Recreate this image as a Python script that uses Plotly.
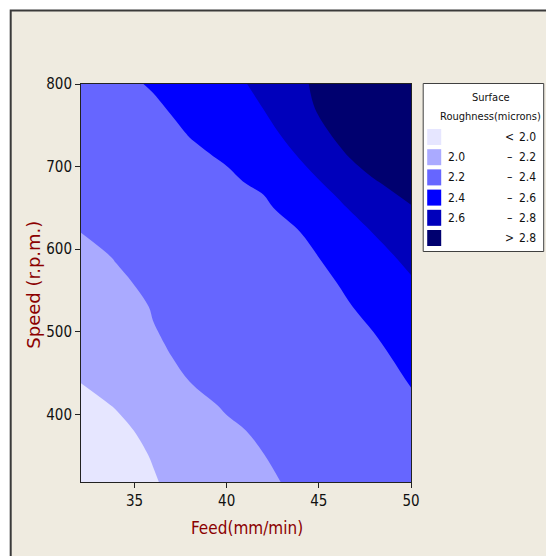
import plotly.graph_objects as go

# ---- data ----
feed = [32, 34, 36, 38, 40, 42, 44, 46, 48, 50]
speed = [318, 350, 380, 410, 440, 470, 500, 530, 560, 590, 620, 650, 680, 710, 740, 770, 800]
roughness = [
    [1.890, 1.940, 1.990, 2.052, 2.113, 2.174, 2.230, 2.262, 2.302, 2.342],
    [1.900, 1.949, 2.007, 2.071, 2.135, 2.198, 2.237, 2.275, 2.314, 2.352],
    [1.925, 1.969, 2.033, 2.100, 2.172, 2.225, 2.257, 2.294, 2.332, 2.370],
    [1.955, 2.006, 2.076, 2.146, 2.216, 2.248, 2.280, 2.316, 2.352, 2.388],
    [2.001, 2.068, 2.135, 2.201, 2.234, 2.268, 2.302, 2.336, 2.370, 2.404],
    [2.038, 2.100, 2.175, 2.224, 2.252, 2.284, 2.317, 2.351, 2.380, 2.425],
    [2.065, 2.126, 2.195, 2.230, 2.264, 2.298, 2.332, 2.366, 2.401, 2.488],
    [2.093, 2.151, 2.206, 2.241, 2.277, 2.313, 2.348, 2.378, 2.430, 2.535],
    [2.125, 2.180, 2.226, 2.257, 2.293, 2.329, 2.364, 2.401, 2.493, 2.584],
    [2.157, 2.206, 2.241, 2.276, 2.311, 2.347, 2.388, 2.412, 2.543, 2.640],
    [2.199, 2.234, 2.267, 2.300, 2.333, 2.366, 2.399, 2.501, 2.605, 2.698],
    [2.220, 2.255, 2.289, 2.323, 2.357, 2.380, 2.455, 2.572, 2.678, 2.786],
    [2.240, 2.275, 2.311, 2.346, 2.382, 2.418, 2.542, 2.640, 2.779, 2.900],
    [2.263, 2.300, 2.337, 2.380, 2.408, 2.514, 2.604, 2.747, 2.900, 3.060],
    [2.286, 2.325, 2.364, 2.404, 2.485, 2.555, 2.660, 2.834, 3.014, 3.194],
    [2.309, 2.348, 2.382, 2.432, 2.522, 2.601, 2.738, 2.894, 3.060, 3.230],
    [2.331, 2.371, 2.410, 2.490, 2.550, 2.640, 2.765, 2.920, 3.080, 3.240],
]
level_start, level_end, level_step = 2.0, 2.8, 0.2
band_colors = ["#e6e6ff", "#aaaaff", "#6666ff", "#0000ff", "#0000bb", "#00006f"]
legend_left = ["", "2.0", "2.2", "2.4", "2.6", ""]
legend_sym = ["<", "–", "–", "–", "–", ">"]
legend_right = ["2.0", "2.2", "2.4", "2.6", "2.8", "2.8"]
x_ticks = [35, 40, 45, 50]
y_ticks = [400, 500, 600, 700, 800]

W, H = 546, 556
L, R, T, B = 81.3, 411.3, 84.0, 482.0
PW, PH = R - L, B - T


def px(x):
    return (x - L) / PW


def py(y):
    return (B - y) / PH


n = len(band_colors)
cscale = [[i / (n - 1), c] for i, c in enumerate(band_colors)]

fig = go.Figure(go.Contour(
    x=feed, y=speed, z=roughness,
    contours=dict(start=level_start, end=level_end, size=level_step,
                  coloring="fill", showlines=False),
    colorscale=cscale, showscale=False, line=dict(width=0, smoothing=1),
    hoverinfo="skip",
))

FONT = "DejaVu Sans Condensed, DejaVu Sans, sans-serif"

shapes = []
# outer frame
shapes.append(dict(type="rect", xref="paper", yref="paper", layer="below",
                   x0=px(11), x1=px(600), y0=py(600), y1=py(10.5),
                   fillcolor="#efebe0", line=dict(color="#3a3a3a", width=2)))
# legend box
shapes.append(dict(type="rect", xref="paper", yref="paper",
                   x0=px(423.5), x1=px(544), y0=py(251.5), y1=py(83.5),
                   fillcolor="white", line=dict(color="#404040", width=1)))
annotations = []
annotations.append(dict(text="Surface", x=px(491), y=py(97.5), xref="paper", yref="paper",
                        showarrow=False, xanchor="center", yanchor="middle",
                        font=dict(family=FONT, size=11, color="#111")))
annotations.append(dict(text="Roughness(microns)", x=px(491), y=py(117), xref="paper", yref="paper",
                        showarrow=False, xanchor="center", yanchor="middle",
                        font=dict(family=FONT, size=11, color="#111")))
for i in range(n):
    yc = 137 + 20.2 * i
    shapes.append(dict(type="rect", xref="paper", yref="paper",
                       x0=px(427.5), x1=px(441.5), y0=py(yc + 8), y1=py(yc - 8),
                       fillcolor=band_colors[i], line=dict(width=0)))
    if legend_left[i]:
        annotations.append(dict(text=legend_left[i], x=px(446), y=py(yc), xref="paper", yref="paper",
                                showarrow=False, xanchor="left", yanchor="middle",
                                font=dict(family=FONT, size=12, color="#111")))
    annotations.append(dict(text=legend_sym[i], x=px(510), y=py(yc), xref="paper", yref="paper",
                            showarrow=False, xanchor="center", yanchor="middle",
                            font=dict(family=FONT, size=12, color="#111")))
    annotations.append(dict(text=legend_right[i], x=px(538), y=py(yc), xref="paper", yref="paper",
                            showarrow=False, xanchor="right", yanchor="middle",
                            font=dict(family=FONT, size=12, color="#111")))

annotations.append(dict(text="Speed (r.p.m.)", x=px(33), y=py(285), xref="paper", yref="paper",
                        showarrow=False, textangle=-90, xanchor="center", yanchor="middle",
                        font=dict(family="DejaVu Sans", size=18, color="#8b0000")))
annotations.append(dict(text="Feed(mm/min)", x=px(247), y=py(528), xref="paper", yref="paper",
                        showarrow=False, xanchor="center", yanchor="middle",
                        font=dict(family=FONT, size=17, color="#8b0000")))

fig.update_layout(
    width=W, height=H,
    margin=dict(l=L, r=W - R, t=T, b=H - B, pad=0),
    paper_bgcolor="white", plot_bgcolor="#efebe0",
    shapes=shapes, annotations=annotations,
    font=dict(family=FONT, size=15, color="#111"),
    xaxis=dict(range=[32.1, 50], tickvals=x_ticks, ticks="outside", ticklen=5,
               tickcolor="#222", showline=True, linecolor="#222", linewidth=1,
               mirror=True, showgrid=False, zeroline=False),
    yaxis=dict(range=[318, 800], tickvals=y_ticks, ticks="outside", ticklen=5,
               tickcolor="#222", showline=True, linecolor="#222", linewidth=1,
               mirror=True, showgrid=False, zeroline=False),
)

fig.write_html("out.html")
